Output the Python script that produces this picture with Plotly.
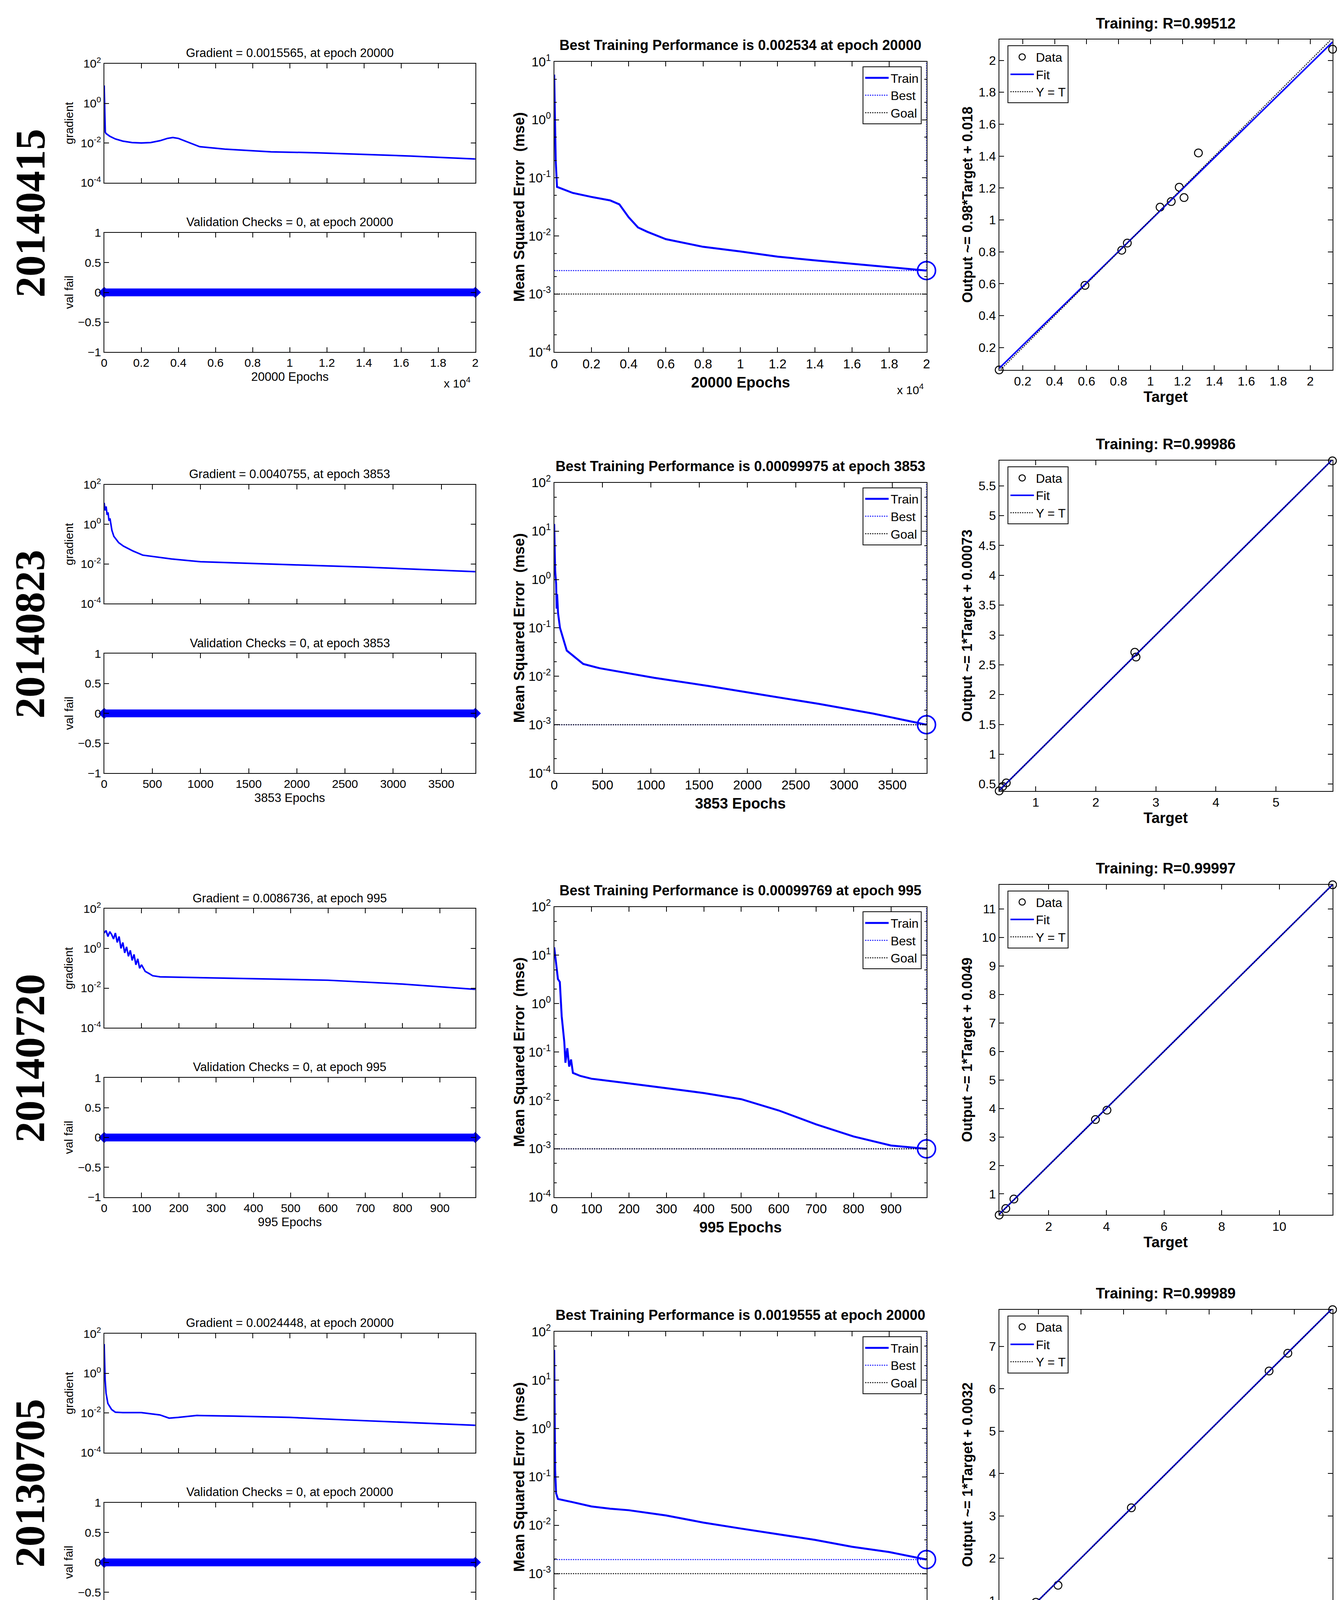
import plotly.graph_objects as go

W, H = 3430, 5540
FONT = "Liberation Sans"
BLUE = "#0000ff"

row_labels = ["20140415", "20140823", "20140720", "20130705", "20130828"]
row_offsets = [0, 1086, 2180, 3276, 4370]
epochs = [20000, 3853, 995, 20000, 1752]

grad_titles = ["Gradient = 0.0015565, at epoch 20000", "Gradient = 0.0040755, at epoch 3853",
               "Gradient = 0.0086736, at epoch 995", "Gradient = 0.0024448, at epoch 20000",
               "Gradient = 0.94996, at epoch 1752"]
perf_titles = ["Best Training Performance is 0.002534 at epoch 20000",
               "Best Training Performance is 0.00099975 at epoch 3853",
               "Best Training Performance is 0.00099769 at epoch 995",
               "Best Training Performance is 0.0019555 at epoch 20000",
               "Best Training Performance is 3.7321e-05 at epoch 1752"]
reg_titles = ["Training: R=0.99512", "Training: R=0.99986", "Training: R=0.99997",
              "Training: R=0.99989", "Training: R=1"]
reg_ylabels = ["Output ~= 0.98*Target + 0.018", "Output ~= 1*Target + 0.00073",
               "Output ~= 1*Target + 0.0049", "Output ~= 1*Target + 0.0032",
               "Output ~= 1*Target + -0.0016"]
best_perf = [0.002534, 0.00099975, 0.00099769, 0.0019555, 3.7321e-05]
goal_perf = [0.001, 0.001, 0.001, 0.001, 0.001]

# gradient curves
g1_ep = [0, 30, 60, 100, 300, 600, 1000, 1500, 2000, 2500, 3000, 3400, 3700, 4000, 4500, 5150, 6500, 9000, 11500, 14000, 16500, 18000, 20000]
g1_val = [8, 0.3, 0.035, 0.03, 0.022, 0.016, 0.0125, 0.0105, 0.01, 0.0105, 0.013, 0.017, 0.019, 0.017, 0.011, 0.0065, 0.0049, 0.0036, 0.0032, 0.0027, 0.0022, 0.0019, 0.00156]
g2_ep = [0, 10, 20, 30, 40, 50, 60, 80, 100, 150, 200, 300, 400, 700, 1000, 1500, 2000, 2700, 3200, 3853]
g2_val = [12, 5, 8, 3, 4, 1.5, 2, 0.5, 0.25, 0.12, 0.08, 0.045, 0.028, 0.018, 0.013, 0.011, 0.009, 0.007, 0.0055, 0.0041]
g3_ep = [0, 5, 10, 15, 20, 25, 30, 35, 40, 45, 50, 55, 60, 65, 70, 75, 80, 85, 90, 95, 100, 110, 120, 130, 150, 400, 600, 800, 995]
g3_val = [6, 8, 4, 7, 5, 3, 6, 2, 4, 1, 2, 0.6, 1.2, 0.4, 0.8, 0.25, 0.5, 0.15, 0.3, 0.1, 0.15, 0.07, 0.055, 0.042, 0.037, 0.03, 0.025, 0.016, 0.0087]
g4_ep = [0, 20, 50, 100, 200, 400, 600, 1000, 2000, 3000, 3500, 4000, 5000, 7000, 10000, 13000, 16000, 20000]
g4_val = [30, 3, 0.5, 0.1, 0.03, 0.015, 0.011, 0.0105, 0.0105, 0.008, 0.0055, 0.006, 0.0075, 0.007, 0.006, 0.0045, 0.0035, 0.0024]
g5_ep = [0, 10, 20, 50, 60, 100, 300, 400, 600, 1000, 1100, 1300, 1400, 1500, 1600, 1650, 1700, 1752]
g5_hi = [8000, 5000, 1000, 600, 300, 200, 150, 130, 140, 130, 160, 180, 300, 250, 200, 400, 2500, 1500]
g5_lo = [1000, 300, 60, 5, 40, 40, 60, 100, 120, 110, 50, 50, 30, 40, 30, 10, 3, 0.95]
mu5_ep = [0, 5, 10, 40, 90, 100, 320, 330, 1000, 1001, 1150, 1151, 1430, 1431, 1480, 1580, 1700, 1720, 1740, 1752]
mu5_hi = [1e5, 1e5, 80, 100, 1000, 1000, 1000, 1000, 1000, 1000, 1000, 8000, 8000, 1000, 1000, 1000, 100, 10, 1, 1e-5]
mu5_lo = [0.1, 10, 10, 10, 10, 10, 10, 100, 100, 1000, 1000, 1000, 100, 1000, 100, 10, 1, 0.1, 0.01, 1e-5]

# performance curves
p1_ep = [0, 30, 80, 150, 1000, 2000, 3000, 3500, 4000, 4500, 5000, 6000, 8000, 10000, 12000, 14000, 16000, 18000, 20000]
p1_val = [6, 1, 0.2, 0.07, 0.055, 0.047, 0.041, 0.035, 0.021, 0.014, 0.0118, 0.0088, 0.0065, 0.0054, 0.0044, 0.0038, 0.0033, 0.0029, 0.002534]
p2_ep = [0, 5, 10, 20, 25, 30, 40, 60, 130, 300, 470, 1036, 1600, 2170, 2735, 3300, 3853]
p2_val = [14, 2, 1.5, 0.8, 0.25, 0.5, 0.2, 0.1, 0.034, 0.018, 0.0147, 0.0093, 0.0063, 0.0041, 0.0027, 0.0017, 0.00099975]
p3_ep = [0, 10, 15, 20, 27, 30, 35, 40, 45, 50, 70, 100, 200, 300, 400, 500, 600, 700, 800, 900, 995]
p3_val = [14.6, 3.2, 2.8, 0.55, 0.16, 0.06, 0.12, 0.05, 0.07, 0.037, 0.032, 0.028, 0.0225, 0.018, 0.0142, 0.0106, 0.0062, 0.0032, 0.0018, 0.00117, 0.00099769]
p4_ep = [0, 50, 100, 200, 1000, 2000, 3000, 4000, 6000, 8000, 10000, 12000, 14000, 16000, 18000, 20000]
p4_val = [42, 0.14, 0.046, 0.035, 0.030, 0.0245, 0.022, 0.0205, 0.016, 0.0114, 0.0086, 0.0066, 0.0050, 0.0036, 0.0028, 0.0019555]
p5_ep = [0, 5, 10, 20, 40, 60, 100, 150, 300, 600, 1000, 1300, 1400, 1500, 1580, 1620, 1650, 1700, 1715, 1725, 1740, 1745, 1748, 1752]
p5_val = [1e4, 1340, 525, 245, 154, 140, 128, 112, 100, 96, 87, 80, 66, 55, 46, 35, 26, 18, 7, 2.3, 1.7, 1.1, 0.0067, 3.7321e-05]

# regression data
r1_t = [0.053, 0.59, 0.82, 0.855, 1.06, 1.13, 1.18, 1.21, 1.30, 2.14]
r1_o = [0.06, 0.59, 0.81, 0.855, 1.08, 1.115, 1.205, 1.14, 1.42, 2.07]
r2_t = [0.392, 0.45, 0.51, 2.65, 2.67, 5.94]
r2_o = [0.385, 0.46, 0.52, 2.71, 2.63, 5.92]
r3_t = [0.28, 0.51, 0.79, 3.62, 4.02, 11.85]
r3_o = [0.26, 0.49, 0.82, 3.61, 3.94, 11.85]
r4_t = [0.08, 0.71, 0.94, 1.46, 3.18, 6.41, 6.85, 7.9]
r4_o = [0.07, 0.78, 0.96, 1.36, 3.19, 6.42, 6.84, 7.87]
r5_t = [1.1, 2.5, 18.6, 30.5, 116, 161, 214]
r5_o = [0.5, 1.5, 18.6, 30.5, 116, 161.5, 214]
fit_slope = [0.98, 1.0, 1.0, 1.0, 1.0]
fit_icpt = [0.018, 0.00073, 0.0049, 0.0032, -0.0016]
reg_xrange = [[0.053, 2.14], [0.392, 5.943], [0.28, 11.85], [0.08, 7.9], [1.1, 215]]
reg_yrange = [[0.06, 2.13], [0.385, 5.923], [0.26, 11.85], [0.07, 7.87], [0.0, 214]]
reg_xticks = [[0.2, 0.4, 0.6, 0.8, 1, 1.2, 1.4, 1.6, 1.8, 2], [1, 2, 3, 4, 5], [2, 4, 6, 8, 10],
              [1, 2, 3, 4, 5, 6, 7], list(range(20, 201, 20))]
reg_yticks = [[0.2, 0.4, 0.6, 0.8, 1, 1.2, 1.4, 1.6, 1.8, 2], [0.5, 1, 1.5, 2, 2.5, 3, 3.5, 4, 4.5, 5, 5.5],
              list(range(1, 12)), [1, 2, 3, 4, 5, 6, 7], list(range(20, 201, 20))]

x_ticks_20k = [0, 2000, 4000, 6000, 8000, 10000, 12000, 14000, 16000, 18000, 20000]
x_ticktext_20k = ["0", "0.2", "0.4", "0.6", "0.8", "1", "1.2", "1.4", "1.6", "1.8", "2"]
x_ticks = [x_ticks_20k, [0, 500, 1000, 1500, 2000, 2500, 3000, 3500],
           [0, 100, 200, 300, 400, 500, 600, 700, 800, 900], x_ticks_20k,
           [0, 200, 400, 600, 800, 1000, 1200, 1400, 1600]]
x_ticktext = [x_ticktext_20k, None, None, x_ticktext_20k, None]
perf_yrange = [[-4, 1], [-4, 2], [-4, 2], [-4, 2], [-5.06, 4]]
perf_ytick_exp = [[-4, -3, -2, -1, 0, 1], [-4, -3, -2, -1, 0, 1, 2], [-4, -3, -2, -1, 0, 1, 2],
                  [-4, -3, -2, -1, 0, 1, 2], [-4, -2, 0, 2, 4]]

grad_data = [(g1_ep, g1_val), (g2_ep, g2_val), (g3_ep, g3_val), (g4_ep, g4_val)]
perf_data = [(p1_ep, p1_val), (p2_ep, p2_val), (p3_ep, p3_val), (p4_ep, p4_val), (p5_ep, p5_val)]
reg_data = [(r1_t, r1_o), (r2_t, r2_o), (r3_t, r3_o), (r4_t, r4_o), (r5_t, r5_o)]

fig = go.Figure()
layout = dict(width=W, height=H, margin=dict(l=0, r=0, t=0, b=0), paper_bgcolor="white",
              plot_bgcolor="white", showlegend=True)
annotations = []
ax_n = [0]


def ann(x, y, text, size, bold=False, angle=0, xa="center", ya="middle", family=FONT):
    annotations.append(dict(x=x / W, y=1 - y / H, xref="paper", yref="paper", text=text,
                            showarrow=False, textangle=angle, xanchor=xa, yanchor=ya,
                            font=dict(family=family, size=size, color="black",
                                      weight="bold" if bold else "normal")))


def new_axes(x0, x1, y0, y1, xr, yr, xlog=False, ylog=False, xtv=None, xtt=None, ytv=None, ytt=None,
             tickfont=30, minor=False, xlabels=True):
    ax_n[0] += 1
    n = ax_n[0]
    sfx = "" if n == 1 else str(n)
    common = dict(showline=True, mirror="ticks", linecolor="black", linewidth=2, ticks="inside",
                  ticklen=12, tickwidth=2, tickcolor="black", showgrid=False, zeroline=False,
                  tickfont=dict(family=FONT, size=tickfont, color="black"))
    xa = dict(common, domain=[x0 / W, x1 / W], range=xr, anchor="y" + sfx,
              type="log" if xlog else "linear", showticklabels=xlabels)
    if xtv is not None:
        xa.update(tickmode="array", tickvals=xtv)
        if xtt is not None:
            xa["ticktext"] = xtt
    ya = dict(common, domain=[1 - y1 / H, 1 - y0 / H], range=yr, anchor="x" + sfx,
              type="log" if ylog else "linear")
    if ytv is not None:
        ya.update(tickmode="array", tickvals=ytv)
        if ytt is not None:
            ya["ticktext"] = ytt
    if minor:
        ya["minor"] = dict(ticks="inside", ticklen=6, tickcolor="black", showgrid=False)
    layout["xaxis" + sfx] = xa
    layout["yaxis" + sfx] = ya
    return "x" + sfx, "y" + sfx


def logticks(exps):
    return [10.0 ** e for e in exps], ["10<sup>%d</sup>" % e for e in exps]


LX0, LX1 = 251, 1206
MX0, MX1 = 1409, 2367
RX0, RX1 = 2554, 3412

for r in range(5):
    off = row_offsets[r]
    N = epochs[r]
    yc = 519 + off if r < 4 else 4889
    ann(60, yc, "<b>" + row_labels[r] + "</b>", 108, angle=-90, family="Liberation Serif")

    # ---------- left column ----------
    val_title = "Validation Checks = 0, at epoch %d" % N
    if r < 4:
        boxes = [("grad", 133 + off, 440 + off), ("val", 569 + off, 877 + off)]
    else:
        boxes = [("grad", 4518, 4695), ("mu", 4798, 4975), ("val", 5077, 5252)]
    for kind, y0, y1 in boxes:
        if kind == "val":
            xa, ya = new_axes(LX0, LX1, y0, y1, [0, N], [-1, 1], xtv=x_ticks[r], xtt=x_ticktext[r],
                              ytv=[-1, 0, 1] if r == 4 else [-1, -0.5, 0, 0.5, 1])
            fig.add_trace(go.Scatter(x=[0, N], y=[0, 0], mode="lines+markers", xaxis=xa, yaxis=ya,
                                     line=dict(color=BLUE, width=20),
                                     marker=dict(symbol="diamond", size=22, color=BLUE),
                                     showlegend=False, cliponaxis=False))
            ann((LX0 + LX1) / 2, y0 - 8, val_title, 31, ya="bottom")
            ann(160, (y0 + y1) / 2, "val fail", 30, angle=-90)
            ann((LX0 + LX1) / 2, y1 + 64, "%d Epochs" % N, 31, ya="middle")
            if x_ticktext[r] is not None:
                ann(LX1 - 10, y1 + 78, "x 10<sup>4</sup>", 30, xa="right")
        elif kind == "grad":
            if r < 4:
                tv, tt = logticks([-4, -2, 0, 2])
                xa, ya = new_axes(LX0, LX1, y0, y1, [0, N], [-4, 2], ylog=True, xtv=x_ticks[r],
                                  ytv=tv, ytt=tt, xlabels=False)
                gx, gy = grad_data[r]
                fig.add_trace(go.Scatter(x=gx, y=gy, mode="lines", xaxis=xa, yaxis=ya,
                                         line=dict(color=BLUE, width=4), showlegend=False))
            else:
                tv, tt = logticks([-5, 0, 5])
                xa, ya = new_axes(LX0, LX1, y0, y1, [0, N], [-5, 5], ylog=True, xtv=x_ticks[r],
                                  ytv=tv, ytt=tt, xlabels=False)
                fig.add_trace(go.Scatter(x=g5_ep, y=g5_hi, mode="lines", xaxis=xa, yaxis=ya,
                                         line=dict(color=BLUE, width=3), showlegend=False))
                fig.add_trace(go.Scatter(x=g5_ep, y=g5_lo, mode="lines", xaxis=xa, yaxis=ya, fill="tonexty",
                                         fillcolor=BLUE, line=dict(color=BLUE, width=3), showlegend=False))
            ann((LX0 + LX1) / 2, y0 - 8, grad_titles[r], 31, ya="bottom")
            ann(160, (y0 + y1) / 2, "gradient", 30, angle=-90)
        else:
            tv, tt = logticks([-5, 0, 5])
            xa, ya = new_axes(LX0, LX1, y0, y1, [0, N], [-5, 5], ylog=True, xtv=x_ticks[r],
                              ytv=tv, ytt=tt, xlabels=False)
            fig.add_trace(go.Scatter(x=mu5_ep, y=mu5_hi, mode="lines", xaxis=xa, yaxis=ya,
                                     line=dict(color=BLUE, width=3, shape="hv"), showlegend=False))
            fig.add_trace(go.Scatter(x=mu5_ep, y=mu5_lo, mode="lines", xaxis=xa, yaxis=ya, fill="tonexty",
                                     fillcolor=BLUE, line=dict(color=BLUE, width=3, shape="hv"), showlegend=False))
            ann((LX0 + LX1) / 2, y0 - 8, "Mu = 1e-05, at epoch 1752", 31, ya="bottom")
            ann(160, (y0 + y1) / 2, "mu", 30, angle=-90)

    # ---------- middle column ----------
    y0, y1 = 128 + off, 877 + off
    tv, tt = logticks(perf_ytick_exp[r])
    xa, ya = new_axes(MX0, MX1, y0, y1, [0, N], perf_yrange[r], ylog=True, xtv=x_ticks[r],
                      xtt=x_ticktext[r], ytv=tv, ytt=tt, tickfont=33, minor=True)
    lg = "legend" if r == 0 else "legend%d" % (r + 1)
    px, pv = perf_data[r]
    fig.add_trace(go.Scatter(x=px, y=pv, mode="lines", name="Train", xaxis=xa, yaxis=ya, legend=lg,
                             line=dict(color=BLUE, width=5)))
    fig.add_trace(go.Scatter(x=[0, N, N], y=[best_perf[r], best_perf[r], 10 ** perf_yrange[r][1]],
                             mode="lines", name="Best", xaxis=xa, yaxis=ya, legend=lg,
                             line=dict(color=BLUE, width=2.5, dash="dot")))
    fig.add_trace(go.Scatter(x=[0, N], y=[goal_perf[r], goal_perf[r]], mode="lines", name="Goal",
                             xaxis=xa, yaxis=ya, legend=lg, line=dict(color="black", width=2.5, dash="dot")))
    fig.add_trace(go.Scatter(x=[N], y=[best_perf[r]], mode="markers", xaxis=xa, yaxis=ya, showlegend=False,
                             cliponaxis=False,
                             marker=dict(symbol="circle-open", size=46, color=BLUE, line=dict(width=4))))
    layout[lg] = dict(x=2354 / W, y=1 - (140 + off) / H, xanchor="right", yanchor="top",
                      bordercolor="black", borderwidth=2, bgcolor="white", traceorder="normal",
                      font=dict(family=FONT, size=32, color="black"), tracegroupgap=0, itemwidth=60)
    ann((MX0 + MX1) / 2, y0 - 20, "<b>" + perf_titles[r] + "</b>", 36, ya="bottom")
    ann(1319, (y0 + y1) / 2, "<b>Mean Squared Error  (mse)</b>", 38, angle=-90)
    ann((MX0 + MX1) / 2, y1 + 78, "<b>%d Epochs</b>" % N, 38)
    if x_ticktext[r] is not None:
        ann(MX1 - 5, y1 + 95, "x 10<sup>4</sup>", 30, xa="right")

    # ---------- right column ----------
    y0, y1 = 71 + off, 923 + off
    xa, ya = new_axes(RX0, RX1, y0, y1, reg_xrange[r], reg_yrange[r], xtv=reg_xticks[r],
                      ytv=reg_yticks[r], tickfont=32)
    lg2 = "legend%d" % (r + 6)
    lo, hi = reg_xrange[r]
    tx, to = reg_data[r]
    fig.add_trace(go.Scatter(x=tx, y=to, mode="markers", name="Data", xaxis=xa, yaxis=ya, legend=lg2,
                             cliponaxis=False,
                             marker=dict(symbol="circle-open", size=20, color="black", line=dict(width=2.5))))
    fig.add_trace(go.Scatter(x=[lo, hi], y=[fit_slope[r] * lo + fit_icpt[r], fit_slope[r] * hi + fit_icpt[r]],
                             mode="lines", name="Fit", xaxis=xa, yaxis=ya, legend=lg2,
                             line=dict(color=BLUE, width=4)))
    fig.add_trace(go.Scatter(x=[lo, hi], y=[lo, hi], mode="lines", name="Y = T", xaxis=xa, yaxis=ya,
                             legend=lg2, line=dict(color="black", width=2.5, dash="dot")))
    layout[lg2] = dict(x=2576 / W, y=1 - (86 + off) / H, xanchor="left", yanchor="top",
                       bordercolor="black", borderwidth=2, bgcolor="white", traceorder="normal",
                       font=dict(family=FONT, size=32, color="black"), tracegroupgap=0, itemwidth=60)
    ann((RX0 + RX1) / 2, y0 - 19, "<b>" + reg_titles[r] + "</b>", 38, ya="bottom")
    ann(2472, (y0 + y1) / 2, "<b>" + reg_ylabels[r] + "</b>", 36, angle=-90)
    ann((RX0 + RX1) / 2, y1 + 70, "<b>Target</b>", 38)

ann(1729, 5499, "(b)", 76, family="Liberation Serif")
layout["annotations"] = annotations
fig.update_layout(**layout)
fig.write_html("out.html")
